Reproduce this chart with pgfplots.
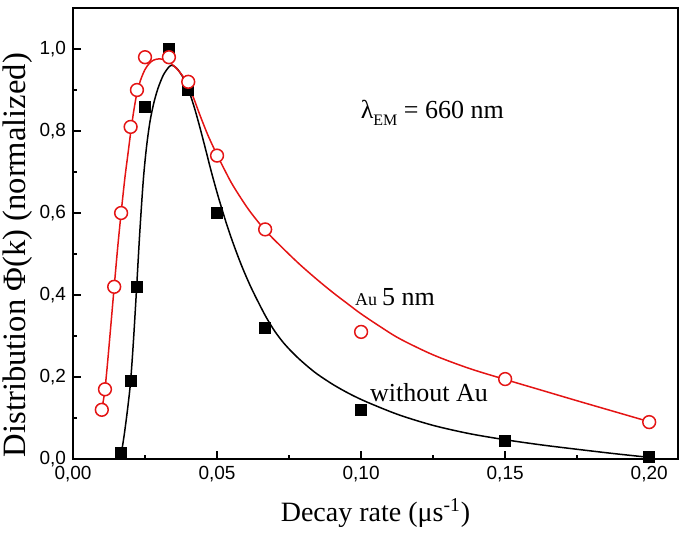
\documentclass[border=0pt]{standalone}
\usepackage{fontspec}
\setmainfont{Liberation Serif}
\setsansfont{Liberation Sans}
\usepackage{pgfplots}
\pgfplotsset{compat=1.18}
\definecolor{myred}{RGB}{228,20,20}
\begin{document}
\begin{tikzpicture}
\begin{axis}[name=ax, scale only axis, width=302.5pt, height=225.5pt,
  xmin=0, xmax=0.21, ymin=0, ymax=1.1,
  xtick={0,0.05,0.1,0.15,0.2}, ytick={0,0.2,0.4,0.6,0.8,1.0},
  minor x tick num=1, minor y tick num=1,
  tick align=inside, xtick pos=bottom, ytick pos=left,
  major tick length=4pt, minor tick length=2pt,
  axis line style={line width=1pt},
  every tick/.style={black, line width=0.8pt},
  tick label style={font=\sffamily\fontsize{9.5}{11}\selectfont, /pgf/number format/assume math mode=true},
  xticklabel style={/pgf/number format/.cd, use comma, fixed, fixed zerofill, precision=2},
  yticklabel style={/pgf/number format/.cd, use comma, fixed, fixed zerofill, precision=1},
  xlabel={Decay rate (μs\textsuperscript{-1})},
  ylabel={Distribution Φ(k) (normalized)},
  xlabel style={font=\fontsize{14}{16}\selectfont, at={(axis description cs:0.5,-0.12)}, anchor=center},
  ylabel style={font=\fontsize{16.3}{18}\selectfont, at={(axis description cs:-0.091,0.452)}, anchor=center},
  clip=false]
% fitted curves
\addplot[black, line width=0.75pt, smooth, no marks] coordinates {
(0.0167,0.010) (0.0178,0.060) (0.0190,0.125) (0.0200,0.190) (0.0210,0.290) (0.0221,0.420)
(0.0232,0.555) (0.0244,0.680) (0.0255,0.760) (0.0267,0.822) (0.0280,0.867) (0.0295,0.904)
(0.0314,0.937) (0.0334,0.957) (0.0345,0.960) (0.0360,0.953) (0.0380,0.933) (0.0400,0.902)
(0.0420,0.860) (0.0440,0.810) (0.0460,0.756) (0.0480,0.701) (0.0500,0.650) (0.0516,0.612)
(0.0535,0.569) (0.0557,0.524) (0.0585,0.472) (0.0615,0.423) (0.0645,0.380) (0.0672,0.344)
(0.0700,0.312) (0.0730,0.284) (0.0760,0.261) (0.0788,0.242) (0.0820,0.2225) (0.0850,0.206)
(0.0904,0.181) (0.0960,0.159) (0.1020,0.139) (0.1130,0.108) (0.1250,0.082) (0.1375,0.062)
(0.1500,0.047) (0.1630,0.034) (0.1770,0.022) (0.1880,0.013) (0.2000,0.004)};
\addplot[myred, line width=0.75pt, smooth, no marks] coordinates {
(0.0100,0.120) (0.0105,0.141) (0.0111,0.170) (0.0120,0.235) (0.0130,0.315) (0.0143,0.420)
(0.0155,0.515) (0.0167,0.600) (0.0180,0.685) (0.0190,0.740) (0.0200,0.795) (0.0210,0.845)
(0.0222,0.893) (0.0235,0.925) (0.0250,0.950) (0.0265,0.965) (0.0280,0.973) (0.0300,0.976)
(0.0320,0.973) (0.0340,0.965) (0.0360,0.952) (0.0380,0.935) (0.0400,0.912) (0.0420,0.878)
(0.0441,0.838) (0.0470,0.787) (0.0500,0.742) (0.0530,0.700) (0.0557,0.665) (0.0610,0.608)
(0.0667,0.558) (0.0730,0.513) (0.0788,0.474) (0.0850,0.436) (0.0904,0.405) (0.0960,0.375)
(0.1000,0.354) (0.1066,0.323) (0.1135,0.293) (0.1250,0.254) (0.1375,0.221) (0.1500,0.194)
(0.1625,0.168) (0.1750,0.142) (0.1875,0.1165) (0.2000,0.091)};
% data
\addplot[only marks, mark=square*, mark size=2.75pt, black] coordinates {
(0.0167,0.015) (0.02,0.19) (0.0222,0.42) (0.025,0.86) (0.0333,1.0) (0.04,0.90) (0.05,0.60) (0.0667,0.32) (0.1,0.12) (0.15,0.045) (0.2,0.005)};
\addplot[only marks, mark=*, mark size=3.2pt, draw=myred, fill=white, line width=0.75pt] coordinates {
(0.01,0.12) (0.0111,0.17) (0.0143,0.42) (0.0167,0.60) (0.02,0.81) (0.0222,0.90) (0.025,0.98) (0.0333,0.98) (0.04,0.92) (0.05,0.74) (0.0667,0.56) (0.1,0.31) (0.15,0.195) (0.2,0.09)};
\node at (axis cs:0.1247,0.844) {\fontsize{13}{15}\selectfont λ\raisebox{-0.6ex}{\fontsize{8}{9}\selectfont EM} = 660 nm};
\node at (axis cs:0.1118,0.395) {{\fontsize{9}{10}\selectfont Au} \fontsize{13}{15}\selectfont 5 nm};
\node at (axis cs:0.1236,0.163) {\fontsize{13}{15}\selectfont without Au};
\end{axis}
\pgfresetboundingbox
\path ([xshift=-36.5pt,yshift=-38.5pt]ax.south west) rectangle ([xshift=3.5pt,yshift=4pt]ax.north east);
\end{tikzpicture}
\end{document}
